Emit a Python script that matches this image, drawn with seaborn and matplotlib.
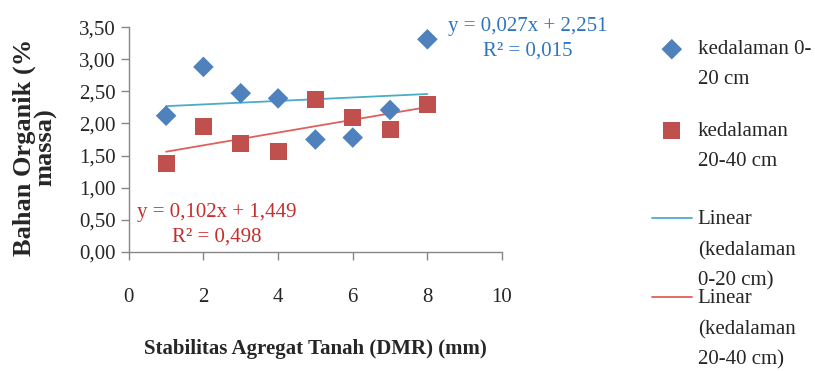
import numpy as np
import pandas as pd
import seaborn as sns
import matplotlib.pyplot as plt
from matplotlib.ticker import FuncFormatter

# data
dmr = [1, 2, 3, 4, 5, 6, 7, 8]
bo_0_20 = [2.12, 2.88, 2.47, 2.39, 1.75, 1.78, 2.21, 3.31]
bo_20_40 = [1.37, 1.95, 1.69, 1.57, 2.37, 2.10, 1.91, 2.30]
labels = ['kedalaman 0-\n20 cm', 'kedalaman\n20-40 cm',
          'Linear\n(kedalaman\n0-20 cm)', 'Linear\n(kedalaman\n20-40 cm)']
eq_0_20 = 'y = 0,027x + 2,251\nR² = 0,015'
eq_20_40 = 'y = 0,102x + 1,449\nR² = 0,498'

df = pd.DataFrame({'dmr': dmr, 'a': bo_0_20, 'b': bo_20_40})

sns.set_theme(style='white')
plt.rcParams['font.family'] = ['Liberation Serif', 'DejaVu Serif']
plt.rcParams['font.size'] = 15

blue, red = '#4F81BD', '#C0504D'
fig = plt.figure(figsize=(8.15, 3.71), dpi=100)
ax = fig.add_axes([0.158, 0.321, 0.458, 0.606])

sns.scatterplot(data=df, x='dmr', y='a', marker='D', s=110, color=blue,
                edgecolor='none', ax=ax, label=labels[0], zorder=3)
sns.scatterplot(data=df, x='dmr', y='b', marker='s', s=150, color=red,
                edgecolor='none', ax=ax, label=labels[1], zorder=3)
sns.regplot(data=df, x='dmr', y='a', scatter=False, ci=None, ax=ax,
            line_kws={'color': '#4BACC6', 'lw': 1.3}, label=labels[2])
sns.regplot(data=df, x='dmr', y='b', scatter=False, ci=None, ax=ax,
            line_kws={'color': '#E0605C', 'lw': 1.3}, label=labels[3])

ax.set_xlim(0, 10)
ax.set_ylim(0, 3.5)
ax.set_xticks(range(0, 11, 2))
ax.set_yticks(np.arange(0, 3.51, 0.5))
ax.yaxis.set_major_formatter(FuncFormatter(lambda v, p: f'{v:.2f}'.replace('.', ',')))
ax.tick_params(axis='both', length=6, width=1, color='#868686', labelsize=15,
               direction='out', bottom=True, left=True)
ax.tick_params(axis='x', pad=20)
for s in ['top', 'right']:
    ax.spines[s].set_visible(False)
for s in ['left', 'bottom']:
    ax.spines[s].set_color('#868686')
    ax.spines[s].set_linewidth(1)

ax.set_xlabel('Stabilitas Agregat Tanah (DMR) (mm)', fontweight='bold',
              fontsize=15, labelpad=23)
ylab = ax.set_ylabel('Bahan Organik (%\nmassa)', fontweight='bold', fontsize=19,
                     linespacing=0.9)
ax.yaxis.set_label_coords(-0.252, 0.467)
ylab.set_va('center')

fig.text(0.647, 0.895, eq_0_20, color='#2E75C0', fontsize=15, ha='center',
         va='center', linespacing=1.4)
fig.text(0.266, 0.393, eq_20_40, color='#C62D2D', fontsize=15, ha='center',
         va='center', linespacing=1.4)

handles, labs = ax.get_legend_handles_labels()
leg_kw = dict(frameon=False, fontsize=15, handlelength=1.9, handletextpad=0.3,
              borderaxespad=0, borderpad=0, bbox_transform=fig.transFigure,
              loc='upper left')
leg1 = ax.legend(handles[:2], labs[:2], bbox_to_anchor=(0.80, 0.892),
                 labelspacing=1.55, **leg_kw)
ax.add_artist(leg1)
leg2 = ax.legend(handles[2:], labs[2:], bbox_to_anchor=(0.80, 0.433),
                 labelspacing=-0.06, **leg_kw)
for leg in (leg1, leg2):
    for t in leg.get_texts():
        t.set_linespacing(1.8)
    for col in leg._legend_handle_box.get_children():
        for row in col.get_children():
            row.align = 'top'

fig.savefig('out.png', dpi=100)
